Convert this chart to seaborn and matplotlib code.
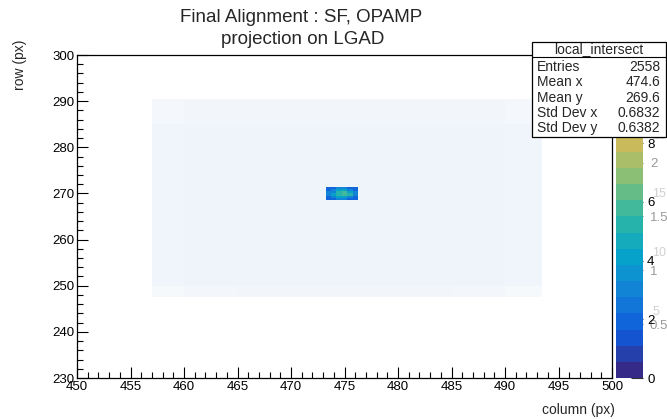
import numpy as np
import pandas as pd
import matplotlib
matplotlib.use("Agg")
import matplotlib.pyplot as plt
import seaborn as sns
from matplotlib.colors import LinearSegmentedColormap
from matplotlib.patches import Rectangle
from matplotlib.lines import Line2D
from matplotlib.ticker import MultipleLocator

# ------------------------------------------------------------------------------ #
# Data
# ------------------------------------------------------------------------------ #
# central cluster, 0.5 px bins; rows from top (high row) to bottom
cluster_x = [473.5, 474.0, 474.5, 475.0, 475.5, 476.0]
cluster_y = [271.25, 270.75, 270.25, 269.75, 269.25, 268.75]
cluster_counts = [
    [2, 2, 3, 3, 2, 2],
    [2, 3, 4, 4, 3, 2],
    [3, 3, 5, 6, 4, 3],
    [3, 4, 5, 6, 5, 3],
    [2, 3, 4, 4, 3, 2],
    [2, 2, 3, 3, 2, 2],
]

# sparse single hits around the cluster: fraction of bins hit per coarse block
bg_x_edges = [457, 460, 465, 470, 475, 480, 485, 490, 493.5]
bg_y_edges = [247.5, 250, 255, 260, 265, 270, 275, 280, 285, 290.5]
bg_density = [  # rows from bottom (247.5) to top (290.5)
    [0.16, 0.20, 0.22, 0.22, 0.22, 0.22, 0.20, 0.16],
    [0.24, 0.28, 0.28, 0.28, 0.28, 0.28, 0.28, 0.24],
    [0.24, 0.28, 0.28, 0.28, 0.28, 0.28, 0.28, 0.24],
    [0.24, 0.28, 0.28, 0.28, 0.28, 0.28, 0.28, 0.24],
    [0.24, 0.28, 0.28, 0.28, 0.28, 0.28, 0.28, 0.24],
    [0.24, 0.28, 0.28, 0.28, 0.28, 0.28, 0.28, 0.24],
    [0.24, 0.28, 0.28, 0.28, 0.28, 0.28, 0.28, 0.24],
    [0.24, 0.28, 0.28, 0.28, 0.28, 0.28, 0.28, 0.24],
    [0.18, 0.22, 0.22, 0.22, 0.22, 0.22, 0.22, 0.18],
]

stats_names = ["Entries", "Mean x", "Mean y", "Std Dev x", "Std Dev y"]
stats_values = ["2558", "474.6", "269.6", "0.6832", "0.6382"]

cbar_ticks = [0, 2, 4, 6, 8]
cbar_ticks_b = [0.5, 1, 1.5, 2]   # overlaid second palette axis (0 .. 3)
cbar_ticks_c = [5, 10, 15, 20]    # overlaid third palette axis (0 .. 27.5)

# ------------------------------------------------------------------------------ #
# Tables for seaborn
# ------------------------------------------------------------------------------ #
cx, cy = np.meshgrid(cluster_x, cluster_y)
cluster = pd.DataFrame(
    {"x": cx.ravel(), "y": cy.ravel(), "n": np.array(cluster_counts).ravel()}
)
bx = [(a + b) / 2 for a, b in zip(bg_x_edges[:-1], bg_x_edges[1:])]
by = [(a + b) / 2 for a, b in zip(bg_y_edges[:-1], bg_y_edges[1:])]
gx, gy = np.meshgrid(bx, by)
background = pd.DataFrame(
    {"x": gx.ravel(), "y": gy.ravel(), "d": np.array(bg_density).ravel()}
)

# ROOT kBird palette, 20 contours
bird = LinearSegmentedColormap.from_list(
    "bird",
    list(zip(
        [0, .125, .25, .375, .5, .625, .75, .875, 1],
        [(0.2082, 0.1664, 0.5293), (0.0592, 0.3599, 0.8684), (0.0780, 0.5041, 0.8385),
         (0.0232, 0.6419, 0.7914), (0.1802, 0.7178, 0.6425), (0.5301, 0.7492, 0.4662),
         (0.8186, 0.7328, 0.3499), (0.9956, 0.7862, 0.1968), (0.9764, 0.9832, 0.0539)],
    )),
).resampled(20)
faint = LinearSegmentedColormap.from_list("faint", ["#ffffff", "#c2d6ee"])

# ------------------------------------------------------------------------------ #
# Figure
# ------------------------------------------------------------------------------ #
sns.set_theme(style="white")
plt.rcParams["font.family"] = ["Liberation Sans", "DejaVu Sans"]

W, H = 667, 419
fig = plt.figure(figsize=(W / 100, H / 100), dpi=100)
ax = fig.add_axes([77 / W, 1 - 378 / H, (612 - 77) / W, (378 - 55) / H])
cax = fig.add_axes([616 / W, 1 - 378 / H, 27 / W, (378 - 55) / H])

sns.histplot(background, x="x", y="y", weights="d",
             bins=[bg_x_edges, bg_y_edges], cmap=faint, ax=ax)
ax.collections[-1].set_clim(0, 1)

x_edges = [v - 0.25 for v in cluster_x] + [cluster_x[-1] + 0.25]
y_edges = sorted([v - 0.25 for v in cluster_y] + [cluster_y[0] + 0.25])
sns.histplot(cluster, x="x", y="y", weights="n",
             bins=[x_edges, y_edges], cmap=bird, ax=ax)
mesh = ax.collections[-1]
mesh.set_clim(0, 11)

ax.set_xlim(450, 500)
ax.set_ylim(230, 300)
ax.set_xlabel("")
ax.set_ylabel("")
ax.xaxis.set_major_locator(MultipleLocator(5))
ax.xaxis.set_minor_locator(MultipleLocator(1))
ax.yaxis.set_major_locator(MultipleLocator(10))
ax.yaxis.set_minor_locator(MultipleLocator(2))
ax.tick_params(which="both", direction="in", top=False, right=False,
               bottom=True, left=True, colors="black", labelsize=9.5, width=0.8)
ax.tick_params(which="major", length=8, pad=2)
ax.tick_params(which="minor", length=4)
for s in ax.spines.values():
    s.set_color("black")
    s.set_linewidth(0.9)

# palette axis
cb = fig.colorbar(mesh, cax=cax, ticks=cbar_ticks)
cb.outline.set_visible(False)
cax.tick_params(direction="in", length=9, width=0.8, colors="#333333",
                labelcolor="black", labelsize=9.5, pad=3)
sec = cax.secondary_yaxis("right", functions=(lambda v: v * 3 / 11, lambda v: v * 11 / 3))
sec.set_yticks(cbar_ticks_b)
sec.set_yticklabels([f"{v:g}" for v in cbar_ticks_b])
sec.tick_params(direction="in", length=9, width=0.8, colors="#777777",
                labelcolor="#999999", labelsize=9.5, pad=5)
sec.spines["right"].set_visible(False)
for v in cbar_ticks_c:
    cax.text(1.35, v * 11 / 27.5 + 0.25, str(v), transform=cax.get_yaxis_transform(),
             ha="left", va="center", fontsize=9, color="#d0d0d0")

# titles and axis labels
fig.text(301 / W, 1 - 18 / H, "Final Alignment : SF, OPAMP", ha="center", va="center",
         fontsize=13.5)
fig.text(303 / W, 1 - 39 / H, "projection on LGAD", ha="center", va="center",
         fontsize=13.5)
fig.text(20 / W, 1 - 40 / H, "row (px)", rotation=90, ha="center", va="top",
         fontsize=10)
fig.text(615 / W, 1 - 410 / H, "column (px)", ha="right", va="center", fontsize=10)

# stats box
box_l, box_t, box_r, box_b = 532, 42, 666, 137
fig.add_artist(Rectangle((box_l / W, 1 - box_b / H), (box_r - box_l) / W,
                         (box_b - box_t) / H, transform=fig.transFigure,
                         facecolor="white", edgecolor="black", linewidth=0.9, zorder=5))
fig.add_artist(Line2D([box_l / W, box_r / W], [1 - 57 / H, 1 - 57 / H],
                      transform=fig.transFigure, color="black", linewidth=0.8, zorder=6))
fig.text((box_l + box_r) / 2 / W, 1 - 49.5 / H, "local_intersect", ha="center",
         va="center", fontsize=10, zorder=7)
for i, (name, val) in enumerate(zip(stats_names, stats_values)):
    yy = 1 - (67 + i * 15.3) / H
    fig.text(537 / W, yy, name, ha="left", va="center", fontsize=10, zorder=7)
    fig.text(660 / W, yy, val, ha="right", va="center", fontsize=10, zorder=7)

fig.savefig("out.png", dpi=100)
